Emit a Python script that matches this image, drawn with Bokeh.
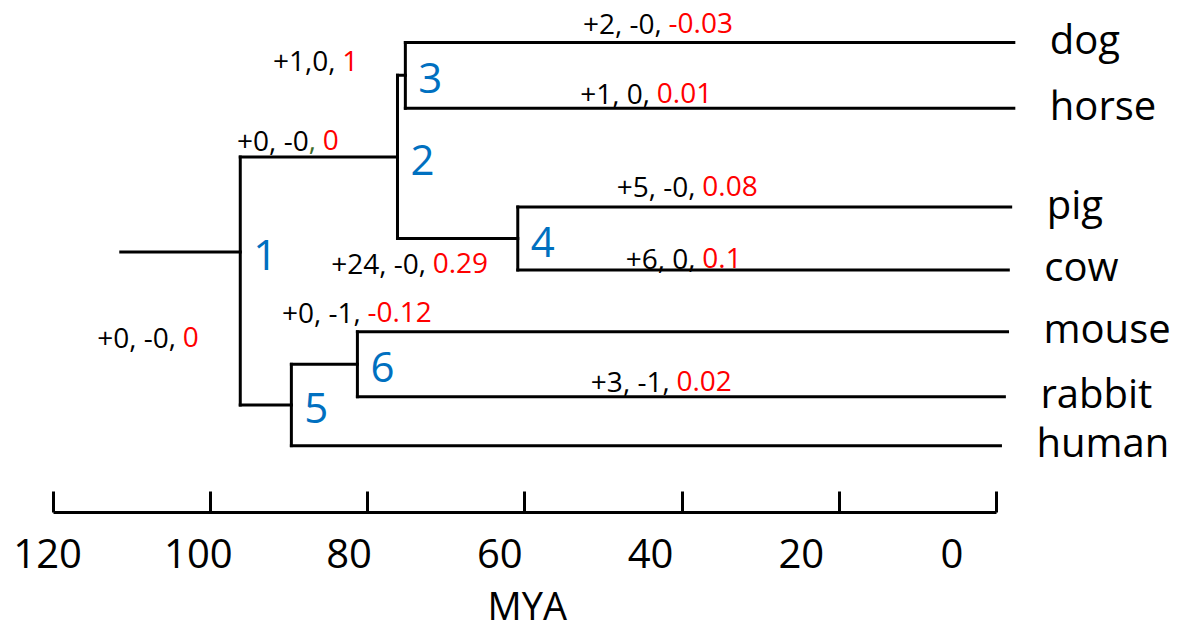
from bokeh.plotting import figure
from bokeh.models import Range1d, LinearAxis, FixedTicker, ColumnDataSource, Title
from bokeh.core.properties import value
from bokeh.embed import file_html
from bokeh.resources import INLINE

# ---------------- data ----------------
leaf_names = ["dog", "horse", "pig", "cow", "mouse", "rabbit", "human"]
leaf_rows = [42, 108, 207, 270, 332, 397, 446]          # vertical order / row position
leaf_ages = [-2.2, -2.2, -1.8, -1.5, -1.4, -1.0, -0.5]   # MYA where each tip line ends

node_ids = ["1", "2", "3", "4", "5", "6"]
node_ages = [96.2, 76.2, 75.2, 60.9, 89.7, 81.3]          # MYA
node_children = [["2", "5"], ["3", "4"], ["dog", "horse"],
                 ["pig", "cow"], ["6", "human"], ["mouse", "rabbit"]]
root_age = 111.4
root_row = 252

ann_black = ["+2, -0", "+1, 0", "+1,0", "+0, -0", "+5, -0",
             "+24, -0", "+6, 0", "+0, -1", "+3, -1", "+0, -0"]
ann_red = ["-0.03", "0.01", "1", "0", "0.08", "0.29", "0.1", "-0.12", "0.02", "0"]
ann_comma_color = ["black", "black", "black", "#3d6b2a", "black",
                   "black", "black", "black", "black", "black"]

tick_values = [120, 100, 80, 60, 40, 20, 0]
tick_labels = ["120", "100", "80", "60", "40", "20", "0"]
axis_title = "MYA"

# ---------------- layout (label anchor positions) ----------------
ann_x = [43.5, 45.0, 85.0, 87.5, 39.2, 73.5, 39.2, 81.8, 42.5, 105.3]
ann_y = [23, 93, 61, 140, 186, 263, 258, 312, 381, 337]

FONT = "Open Sans"
BLUE = "#0070C0"
RED = "#FF0000"

# ---------------- tree geometry ----------------
pos = {n: (a, r) for n, a, r in zip(leaf_names, leaf_ages, leaf_rows)}
age_of = dict(zip(node_ids, node_ages))
kids_of = dict(zip(node_ids, node_children))


def place(n):
    if n in pos:
        return pos[n]
    ys = [place(c)[1] for c in kids_of[n]]
    pos[n] = (age_of[n], (min(ys) + max(ys)) / 2.0)
    return pos[n]


for n in node_ids:
    place(n)
# node 1 is attached to the root stem at the root row
pos["1"] = (age_of["1"], root_row)

x0, y0, x1, y1 = [], [], [], []
for n in node_ids:
    ax_, _ = pos[n]
    cy = [pos[c][1] for c in kids_of[n]]
    x0.append(ax_); y0.append(min(cy)); x1.append(ax_); y1.append(max(cy))
    for c in kids_of[n]:
        cx, cyy = pos[c]
        x0.append(ax_); y0.append(cyy); x1.append(cx); y1.append(cyy)
x0.append(root_age); y0.append(root_row); x1.append(age_of["1"]); y1.append(root_row)

seg_src = ColumnDataSource(dict(x0=x0, y0=y0, x1=x1, y1=y1))

p = figure(width=1181, height=636,
           x_range=Range1d(126.7, -23.53), y_range=Range1d(513, 0),
           output_backend="svg", toolbar_location=None,
           min_border_left=0, min_border_right=0, min_border_top=0,
           min_border_bottom=123, y_axis_location=None)
p.outline_line_color = None
p.xgrid.visible = False
p.ygrid.visible = False
p.background_fill_color = "white"
p.border_fill_color = "white"

p.segment("x0", "y0", "x1", "y1", source=seg_src, line_color="black",
          line_width=3, line_cap="square")

# node numbers
p.text(x=[pos[n][0] for n in node_ids], y=[pos[n][1] for n in node_ids],
       text=node_ids, x_offset=25, y_offset=3,
       text_align="center", text_baseline="middle",
       text_color=BLUE, text_font=value(FONT), text_font_size=value("42px"))

# tip labels
p.text(x=leaf_ages, y=leaf_rows, text=leaf_names, x_offset=36, y_offset=-4,
       text_align="left", text_baseline="middle",
       text_color="black", text_font=value(FONT), text_font_size=value("40px"))

# branch annotations: black part, comma, red part
p.text(x=ann_x, y=ann_y, text=ann_black, text_align="right", text_baseline="middle",
       text_color="black", text_font=value(FONT), text_font_size=value("28px"))
p.text(x=ann_x, y=ann_y, text=[","] * len(ann_x), text_align="left", text_baseline="middle",
       text_color=ann_comma_color, text_font=value(FONT), text_font_size=value("28px"))
p.text(x=ann_x, y=ann_y, text=ann_red, x_offset=14, text_align="left", text_baseline="middle",
       text_color=RED, text_font=value(FONT), text_font_size=value("28px"))

# main axis: line + inward ticks
ax = p.xaxis[0]
ax.ticker = FixedTicker(ticks=tick_values)
ax.bounds = (0, 120)
ax.axis_line_color = "black"
ax.axis_line_width = 3
ax.major_tick_line_color = "black"
ax.major_tick_line_width = 3
ax.major_tick_in = 21
ax.major_tick_out = 0
ax.minor_tick_line_color = None
ax.major_label_overrides = {v: "" for v in tick_values}
ax.major_label_text_font_size = "1px"
ax.major_label_standoff = 0

# label axis (labels drawn where the picture has them)
p.extra_x_ranges = {"lab": Range1d(126.26, -30.45)}
lab = LinearAxis(x_range_name="lab", ticker=FixedTicker(ticks=tick_values),
                 major_label_overrides=dict(zip(tick_values, tick_labels)),
                 axis_line_color=None, major_tick_line_color=None,
                 minor_tick_line_color=None, major_tick_in=0, major_tick_out=0,
                 major_label_standoff=26,
                 major_label_text_font=FONT, major_label_text_font_size="40px",
                 major_label_text_color="black")
p.add_layout(lab, "below")

p.add_layout(Title(text=axis_title, align="left", offset=487, standoff=12,
                   text_font=FONT, text_font_size="38px", text_font_style="normal",
                   text_color="black"), "below")

open("out.html", "w").write(file_html(p, INLINE))
